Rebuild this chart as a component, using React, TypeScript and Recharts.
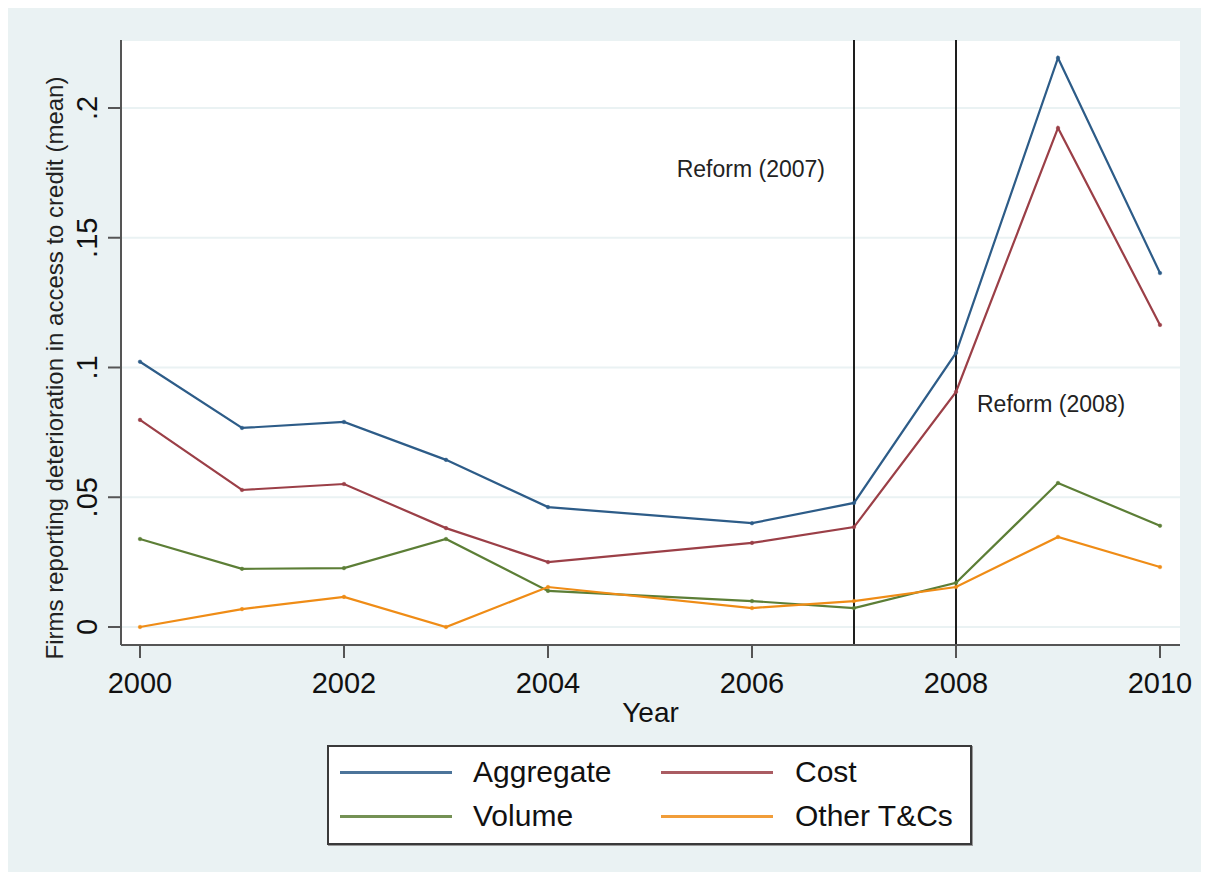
import React from 'react';
import { LineChart, Line, XAxis, YAxis, CartesianGrid, ReferenceLine, Legend, Label } from 'recharts';

const years = [2000, 2001, 2002, 2003, 2004, 2006, 2007, 2008, 2009, 2010];
const aggregate = [0.1022, 0.0767, 0.079, 0.0644, 0.0462, 0.040, 0.0478, 0.1056, 0.2193, 0.1364];
const cost = [0.0798, 0.0528, 0.0551, 0.0381, 0.025, 0.0324, 0.0385, 0.0906, 0.1923, 0.1164];
const volume = [0.0339, 0.0224, 0.0227, 0.0339, 0.0139, 0.010, 0.0073, 0.017, 0.0555, 0.039];
const otherTCs = [0, 0.0069, 0.0116, 0, 0.0154, 0.0073, 0.010, 0.0154, 0.0347, 0.0231];

const xTicks = [2000, 2002, 2004, 2006, 2008, 2010];
const yTicks = [0, 0.05, 0.1, 0.15, 0.2];
const yTickLabels = ['0', '.05', '.1', '.15', '.2'];
const yDomain = [-0.00694, 0.2262];
const reformYears = [2007, 2008];
const reformLabels = ['Reform (2007)', 'Reform (2008)'];

const seriesNames = ['Aggregate', 'Cost', 'Volume', 'Other T&Cs'];
const seriesKeys = ['aggregate', 'cost', 'volume', 'other'];
const seriesColors = ['#2d5c88', '#9b3f47', '#5c7e36', '#ef8c16'];

const data = years.map((year, i) => ({
  year,
  aggregate: aggregate[i],
  cost: cost[i],
  volume: volume[i],
  other: otherTCs[i],
}));

const FONT = '"Liberation Sans", Arial, Helvetica, sans-serif';
const BG = '#eaf2f3';
const AXIS = '#555555';

const YTick = (props: any) => {
  const { x, y, payload } = props;
  const idx = yTicks.indexOf(payload.value);
  const label = idx >= 0 ? yTickLabels[idx] : String(payload.value);
  const bx = x - 11;
  return (
    <text
      x={bx}
      y={y}
      transform={`rotate(-90, ${bx}, ${y})`}
      textAnchor="middle"
      fontSize={29}
      fontFamily={FONT}
      fill="#111"
    >
      {label}
    </text>
  );
};

const XTick = (props: any) => {
  const { x, y, payload } = props;
  return (
    <text x={x} y={y + 35} textAnchor="middle" fontSize={29} fontFamily={FONT} fill="#111">
      {payload.value}
    </text>
  );
};

const LegendBox = () => {
  const rows = [
    [0, 1],
    [2, 3],
  ];
  return (
    <div
      style={{
        width: 641,
        height: 96,
        background: '#fff',
        border: '2px solid #3a3a3a',
        boxShadow: '1px 1px 0 #999',
        position: 'relative',
        fontFamily: FONT,
      }}
    >
      {rows.map((row, ri) =>
        row.map((si, ci) => {
          const top = ri === 0 ? 25 : 69;
          const lineLeft = ci === 0 ? 11 : 332;
          const textLeft = ci === 0 ? 144 : 466;
          return (
            <React.Fragment key={si}>
              <div
                style={{
                  position: 'absolute',
                  left: lineLeft,
                  top: top - 1,
                  width: 112,
                  height: 3,
                  background: seriesColors[si],
                  opacity: 0.85,
                }}
              />
              <div
                style={{
                  position: 'absolute',
                  left: textLeft,
                  top: top - 18,
                  fontSize: 30,
                  lineHeight: '36px',
                  color: '#111',
                  whiteSpace: 'nowrap',
                }}
              >
                {seriesNames[si]}
              </div>
            </React.Fragment>
          );
        })
      )}
    </div>
  );
};

export default function App() {
  return (
    <div style={{ width: 1193, height: 864, background: BG, position: 'relative' }}>
      <LineChart
        width={1193}
        height={864}
        data={data}
        margin={{ top: 32, right: 21, bottom: 167, left: 0 }}
        style={{ fontFamily: FONT }}
      >
        <CartesianGrid
          horizontal={true}
          vertical={false}
          fill="#ffffff"
          stroke={BG}
          strokeWidth={2}
        />
        <XAxis
          dataKey="year"
          type="number"
          domain={[2000, 2010]}
          ticks={xTicks}
          padding={{ left: 19, right: 20 }}
          height={60}
          tickSize={13}
          tickMargin={0}
          tick={<XTick />}
          axisLine={{ stroke: AXIS, strokeWidth: 2 }}
          tickLine={{ stroke: AXIS, strokeWidth: 2 }}
          allowDecimals={false}
        >
          <Label
            content={(p: any) => {
              const vb = p.viewBox || {};
              const cx = vb.x + vb.width / 2;
              return (
                <text x={cx} y={714} textAnchor="middle" fontSize={28} fontFamily={FONT} fill="#111">
                  Year
                </text>
              );
            }}
          />
        </XAxis>
        <YAxis
          type="number"
          domain={yDomain}
          ticks={yTicks}
          allowDataOverflow={true}
          width={113}
          tickSize={13}
          tickMargin={0}
          tick={<YTick />}
          axisLine={{ stroke: AXIS, strokeWidth: 2 }}
          tickLine={{ stroke: AXIS, strokeWidth: 2 }}
        >
          <Label
            content={() => (
              <text
                x={55}
                y={360}
                transform="rotate(-90, 55, 360)"
                textAnchor="middle"
                fontSize={24}
                fontFamily={FONT}
                fill="#222"
              >
                Firms reporting deterioration in access to credit (mean)
              </text>
            )}
          />
        </YAxis>
        {reformYears.map((yr, i) => (
          <ReferenceLine
            key={yr}
            x={yr}
            stroke="#1e1e1e"
            strokeWidth={2}
            label={(p: any) => {
              const vb = p.viewBox || {};
              const isFirst = i === 0;
              return (
                <text
                  x={isFirst ? vb.x - 29 : vb.x + 21}
                  y={isFirst ? vb.y + 137 : vb.y + 372}
                  textAnchor={isFirst ? 'end' : 'start'}
                  fontSize={23}
                  fontFamily={FONT}
                  fill="#222"
                >
                  {reformLabels[i]}
                </text>
              );
            }}
          />
        ))}
        {seriesKeys.map((k, i) => (
          <Line
            key={k}
            dataKey={k}
            name={seriesNames[i]}
            type="linear"
            stroke={seriesColors[i]}
            strokeWidth={2.2}
            dot={{ r: 1.8, fill: seriesColors[i], stroke: seriesColors[i], strokeWidth: 0.5 }}
            activeDot={false}
            isAnimationActive={false}
          />
        ))}
        <Legend
          layout="horizontal"
          verticalAlign="middle"
          align="center"
          wrapperStyle={{ position: 'absolute', left: 319, top: 737, width: 645, height: 100 }}
          content={() => <LegendBox />}
        />
      </LineChart>
    </div>
  );
}
